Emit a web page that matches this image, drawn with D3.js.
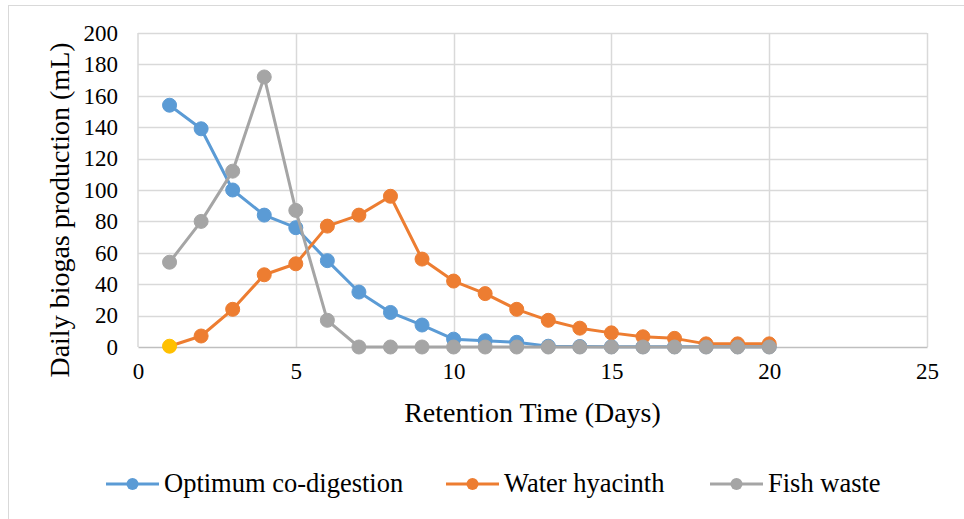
<!DOCTYPE html>
<html>
<head>
<meta charset="utf-8">
<script src="https://cdn.jsdelivr.net/npm/d3@7"></script>
<style>
  html, body { margin: 0; padding: 0; background: #fff; }
  svg { display: block; }
  svg text { font-family: "Liberation Serif", "Times New Roman", serif !important; fill: #000; }
</style>
</head>
<body>
<svg id="chart" width="964" height="519"></svg>
<script>
// Retention days (x) and daily biogas volumes (mL) per feedstock
const days = [1, 2, 3, 4, 5, 6, 7, 8, 9, 10, 11, 12, 13, 14, 15, 16, 17, 18, 19, 20];
const coDigestion = [154, 139, 100, 84, 76, 55, 35, 22, 14, 5, 4, 3, 0.5, 0.3, 0.2, 0.2, 0.2, 0.2, 0.2, 0.2];
const waterHyacinth = [0.5, 7, 24, 46, 53, 77, 84, 96, 56, 42, 34, 24, 17, 12, 9, 6.5, 5.5, 2, 2, 2];
const fishWaste = [54, 80, 112, 172, 87, 17, 0, 0, 0, 0, 0, 0, 0, 0, 0, 0, 0, 0, 0, 0];

const xTicks = [0, 5, 10, 15, 20, 25];
const yTicks = [0, 20, 40, 60, 80, 100, 120, 140, 160, 180, 200];

const seriesNames = ["Optimum co-digestion", "Water hyacinth", "Fish waste"];
const seriesColors = ["#5B9BD5", "#ED7D31", "#A5A5A5"];
const seriesValues = [coDigestion, waterHyacinth, fishWaste];

const serif = '"Liberation Serif", "Times New Roman", serif';
const svg = d3.select("#chart");

// outer chart frame (runs past the right and bottom edges)
svg.append("rect")
  .attr("x", 8.5).attr("y", 5.5)
  .attr("width", 1000).attr("height", 600)
  .attr("fill", "none").attr("stroke", "#d9d9d9").attr("stroke-width", 1);

const x = d3.scaleLinear().domain([0, 25]).range([138, 927]);
const y = d3.scaleLinear().domain([0, 200]).range([347, 33]);

// gridlines
const grid = svg.append("g");
grid.selectAll("line.h").data(yTicks.filter(v => v > 0)).join("line")
  .attr("x1", x(0)).attr("x2", x(25))
  .attr("y1", d => Math.round(y(d)) + 0.5).attr("y2", d => Math.round(y(d)) + 0.5)
  .attr("stroke", "#d9d9d9").attr("stroke-width", 1.5);
grid.selectAll("line.v").data(xTicks.filter(v => v > 0)).join("line")
  .attr("y1", y(0)).attr("y2", y(200))
  .attr("x1", d => Math.round(x(d)) + 0.5).attr("x2", d => Math.round(x(d)) + 0.5)
  .attr("stroke", "#d9d9d9").attr("stroke-width", 1.5);
// left edge of plot area
grid.append("line")
  .attr("x1", x(0)).attr("x2", x(0)).attr("y1", y(0)).attr("y2", y(200))
  .attr("stroke", "#d9d9d9").attr("stroke-width", 1.5);

// axes
const yAxis = d3.axisLeft(y).tickValues(yTicks).tickSize(0).tickPadding(20);
const yG = svg.append("g").attr("transform", `translate(${x(0)},0)`).call(yAxis)
  .attr("font-family", null).attr("font-size", null);
yG.select(".domain").remove();
yG.selectAll("text").style("font-family", serif).style("font-size", "23px");

const xAxis = d3.axisBottom(x).tickValues(xTicks).tickSize(0).tickPadding(16);
const xG = svg.append("g").attr("transform", `translate(0,${y(0)})`).call(xAxis)
  .attr("font-family", null).attr("font-size", null);
xG.select(".domain").attr("stroke", "#bfbfbf").attr("stroke-width", 1.5);
xG.selectAll("text").style("font-family", serif).style("font-size", "23px");

// axis titles
svg.append("text")
  .attr("x", x(12.5)).attr("y", 422)
  .attr("text-anchor", "middle").style("font-size", "28px")
  .text("Retention Time (Days)");
svg.append("text")
  .attr("transform", "translate(69,210) rotate(-90)")
  .attr("text-anchor", "middle").style("font-size", "28px")
  .text("Daily biogas production (mL)");

// series lines and markers
const line = d3.line().x(d => x(d[0])).y(d => y(d[1]));
seriesValues.forEach((vals, i) => {
  const pts = days.map((d, j) => [d, vals[j]]);
  const g = svg.append("g");
  g.append("path").datum(pts)
    .attr("d", line).attr("fill", "none")
    .attr("stroke", seriesColors[i]).attr("stroke-width", 3)
    .attr("stroke-linejoin", "round");
  g.selectAll("circle").data(pts).join("circle")
    .attr("cx", d => x(d[0])).attr("cy", d => y(d[1])).attr("r", 7)
    .attr("fill", (d, j) => (i === 1 && j === 0) ? "#FFC000" : seriesColors[i])
    .attr("stroke", (d, j) => (i === 1 && j === 0) ? "#FFC000" : seriesColors[i])
    .attr("stroke-width", 1);
});

// legend
const legendX = [106, 446, 710];
const legend = svg.append("g");
seriesNames.forEach((name, i) => {
  const lx = legendX[i];
  legend.append("line")
    .attr("x1", lx).attr("x2", lx + 53).attr("y1", 484).attr("y2", 484)
    .attr("stroke", seriesColors[i]).attr("stroke-width", 3);
  legend.append("circle")
    .attr("cx", lx + 26.5).attr("cy", 484).attr("r", 6)
    .attr("fill", seriesColors[i]);
  legend.append("text")
    .attr("x", lx + 58).attr("y", 492)
    .style("font-size", "26.5px")
    .text(name);
});
</script>
</body>
</html>
